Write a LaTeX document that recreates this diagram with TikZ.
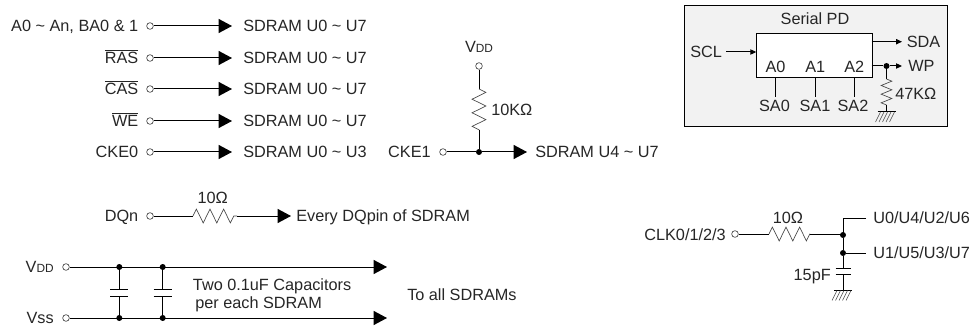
\documentclass[tikz,border=0pt]{standalone}
\usepackage{fontspec}
\setmainfont{Liberation Sans}
\usetikzlibrary{arrows.meta,decorations.pathmorphing}
\definecolor{panelgray}{RGB}{242,242,242}
\definecolor{wiregray}{RGB}{70,70,70}
\newcommand{\smallsub}[2]{#1{\fontsize{8.9pt}{10pt}\selectfont #2}}
\tikzset{
	txt/.style={inner sep=0pt,font=\fontsize{12.2pt}{14pt}\selectfont,text height=8.7pt,text depth=0pt,text=black!85},
	wire/.style={line width=0.75pt,black},
	sigarrow/.style={wire,-{Triangle[length=10pt,width=10.5pt]}},
	smallarrow/.style={wire,-{Triangle[length=4.5pt,width=4pt]}},
	pinhole/.style={draw=wiregray,circle,fill=white,line width=0.5pt,inner sep=0pt,minimum size=5pt},
	junction/.style={circle,fill=black,inner sep=0pt,minimum size=4.5pt},
	resistor/.style={line width=0.5pt,wiregray,decorate,decoration={zigzag,segment length=10.2pt,amplitude=5.2pt}},
	plate/.style={line width=0.75pt,black},
	pics/gnd/.style={code={
		\draw[line width=0.75pt] (-9,0) -- (9,0);
		\foreach \hx in {-6,-2.5,1,4.5,8}
			\draw[line width=0.35pt,wiregray] (\hx,0) -- (\hx-5,10);
	}},
}
\begin{document}
\begin{tikzpicture}[x=0.75pt,y=-0.75pt]
	\useasboundingbox (0,0) rectangle (972,328);
	% address and control lines
	\foreach \rowy/\rowname/\rowtxt/\rowdest in {
		26/a/{A0 \textasciitilde{} An, BA0 \& 1}/{SDRAM U0 \textasciitilde{} U7},
		58/b/{$\overline{\mbox{RAS}}$}/{SDRAM U0 \textasciitilde{} U7},
		89/c/{$\overline{\mbox{CAS}}$}/{SDRAM U0 \textasciitilde{} U7},
		121/d/{$\overline{\mbox{WE}}$}/{SDRAM U0 \textasciitilde{} U7},
		152/e/{CKE0}/{SDRAM U0 \textasciitilde{} U3}}{
		\node[pinhole] (pin_\rowname) at (150,\rowy) {};
		\node[txt,anchor=east] (name_\rowname) at (138.5,\rowy) {\rowtxt};
		\coordinate (tip_\rowname) at (232,\rowy);
		\node[txt,anchor=west] (dest_\rowname) at (243,\rowy) {\rowdest};
		\draw[sigarrow] (pin_\rowname) -- (tip_\rowname);
	}
	% CKE1 with pull up
	\node[pinhole] (pin_vdd) at (479,66) {};
	\node[txt] (name_vdd) at (479,47) {\smallsub{V}{DD}};
	\coordinate (r_top) at (479,89);
	\coordinate (r_bot) at (479,130);
	\node[pinhole] (pin_cke) at (443,152) {};
	\node[txt,anchor=east] (name_cke) at (431,152) {CKE1};
	\node[junction] (j_cke) at (479,152) {};
	\coordinate (tip_cke) at (527,152);
	\node[txt,anchor=west] (dest_cke) at (535,152) {SDRAM U4 \textasciitilde{} U7};
	\node[txt,anchor=west] (val_cke) at (491,110) {10KΩ};
	\draw[wire] (pin_vdd) -- (r_top);
	\draw[resistor] (r_top) -- (r_bot);
	\draw[wire] (r_bot) -- (j_cke);
	\draw[wire] (pin_cke) -- (j_cke);
	\draw[sigarrow] (j_cke) -- (tip_cke);
	% serial PD
	\node[draw=black,fill=panelgray,line width=0.75pt,minimum width=196.8pt,minimum height=90.8pt,inner sep=0pt,anchor=north west] (panel) at (684.4,5) {};
	\node[draw=black,fill=white,line width=0.75pt,minimum width=86.5pt,minimum height=33.5pt,inner sep=0pt,anchor=north west] (chip) at (756.3,32.7) {};
	\node[txt] (title) at (815,18.5) {Serial PD};
	\node[txt,anchor=west] (scl) at (690,52) {SCL};
	\coordinate (scl_in) at (chip.west |- scl);
	\draw[smallarrow] (scl.east) ++(4,0) coordinate (scl_out) -- (scl_in);
	\foreach \ax/\ay/\sx/\an/\sn in {775.5/67/774.5/A0/SA0,815.3/67/815/A1/SA1,854.3/67/853/A2/SA2}{
		\node[txt] (\an) at (\ax,\ay) {\an};
		\node[txt] (\sn) at (\sx,106) {\sn};
		\coordinate (\an_pin) at (\ax,77.3);
		\coordinate (\an_end) at (\ax,97);
		\draw[wire] (\an_pin) -- (\an_end);
	}
	\coordinate (sda_start) at (871.7,41.7);
	\coordinate (sda_tip) at (902,41.7);
	\node[txt,anchor=west] (sda) at (906.5,41.7) {SDA};
	\draw[smallarrow] (sda_start) -- (sda_tip);
	\coordinate (wp_start) at (871.7,66);
	\node[junction] (j_wp) at (886.5,66) {};
	\coordinate (wp_tip) at (902,66);
	\node[txt,anchor=west] (wp) at (908,66) {WP};
	\draw[wire] (wp_start) -- (j_wp);
	\draw[smallarrow] (j_wp) -- (wp_tip);
	\coordinate (r47_top) at (886.5,79);
	\coordinate (r47_bot) at (886.5,105);
	\coordinate (gnd47) at (886.5,112);
	\node[txt,anchor=west] (val_wp) at (895,94) {47KΩ};
	\draw[wire] (j_wp) -- (r47_top);
	\draw[resistor,decoration={segment length=6.5pt,amplitude=4pt}] (r47_top) -- (r47_bot);
	\draw[wire] (r47_bot) -- (gnd47);
	\pic at (gnd47) {gnd};
	% DQ line
	\node[pinhole] (pin_dq) at (150,216) {};
	\node[txt,anchor=east] (name_dq) at (138.5,216) {DQn};
	\node[txt] (val_dq) at (212.7,198) {10Ω};
	\coordinate (r_dq_l) at (193,216);
	\coordinate (r_dq_r) at (237,216);
	\coordinate (tip_dq) at (291,216);
	\node[txt,anchor=west] (dest_dq) at (296,216) {Every DQpin of SDRAM};
	\draw[wire] (pin_dq) -- (r_dq_l);
	\draw[resistor] (r_dq_l) -- (r_dq_r);
	\draw[sigarrow] (r_dq_r) -- (tip_dq);
	% supply rails
	\node[pinhole] (pin_rail_d) at (66,267) {};
	\node[pinhole] (pin_rail_s) at (66,318) {};
	\node[txt,anchor=east] (name_rail_d) at (54,267) {\smallsub{V}{DD}};
	\node[txt,anchor=east] (name_rail_s) at (54,318) {Vss};
	\coordinate (tip_rail_d) at (387,267);
	\coordinate (tip_rail_s) at (387,318);
	\draw[sigarrow] (pin_rail_d) -- (tip_rail_d);
	\draw[sigarrow] (pin_rail_s) -- (tip_rail_s);
	\foreach \cx/\cn in {119.3/a,162.7/b}{
		\node[junction] (cj_\cn_t) at (\cx,267) {};
		\node[junction] (cj_\cn_b) at (\cx,318) {};
		\coordinate (cp_\cn_t) at (\cx,289.3);
		\coordinate (cp_\cn_b) at (\cx,296.7);
		\draw[wire] (cj_\cn_t) -- (cp_\cn_t);
		\draw[wire] (cp_\cn_b) -- (cj_\cn_b);
		\draw[plate] (\cx-9,289.3) -- (\cx+9,289.3);
		\draw[plate] (\cx-9,296.7) -- (\cx+9,296.7);
	}
	\node[txt,anchor=west] (note_a) at (192.7,285) {Two 0.1uF Capacitors};
	\node[txt,anchor=west] (note_b) at (195,303) {per each SDRAM};
	\node[txt,anchor=west] (note_c) at (407,295) {To all SDRAMs};
	% clock
	\node[pinhole] (pin_clk) at (735,234) {};
	\node[txt,anchor=east] (name_clk) at (726,235) {CLK0/1/2/3};
	\node[txt] (val_clk) at (788,218) {10Ω};
	\coordinate (r_clk_l) at (769,234);
	\coordinate (r_clk_r) at (810,234);
	\node[junction] (j_clk_a) at (843,235) {};
	\node[junction] (j_clk_b) at (843,253) {};
	\coordinate (clk_top) at (843,218);
	\coordinate (stub_a) at (866,218);
	\coordinate (stub_b) at (866,253);
	\node[txt,anchor=west] (dest_clk_a) at (873,218) {U0/U4/U2/U6};
	\node[txt,anchor=west] (dest_clk_b) at (873,253) {U1/U5/U3/U7};
	\coordinate (cp_clk_t) at (843,268.3);
	\coordinate (cp_clk_b) at (843,274.5);
	\coordinate (gnd_clk) at (843,290.5);
	\node[txt,anchor=east] (val_cap) at (831,275) {15pF};
	\draw[wire] (pin_clk) -- (r_clk_l);
	\draw[resistor] (r_clk_l) -- (r_clk_r);
	\draw[wire] (r_clk_r) -- (r_clk_r -| j_clk_a) -- (j_clk_a);
	\draw[wire] (stub_a) -- (clk_top) -- (j_clk_a) -- (j_clk_b) -- (cp_clk_t);
	\draw[wire] (j_clk_b) -- (stub_b);
	\draw[wire] (cp_clk_b) -- (gnd_clk);
	\draw[plate] (835.5,268.3) -- (850.5,268.3);
	\draw[plate] (835.5,274.5) -- (850.5,274.5);
	\pic at (gnd_clk) {gnd};
\end{tikzpicture}
\end{document}
